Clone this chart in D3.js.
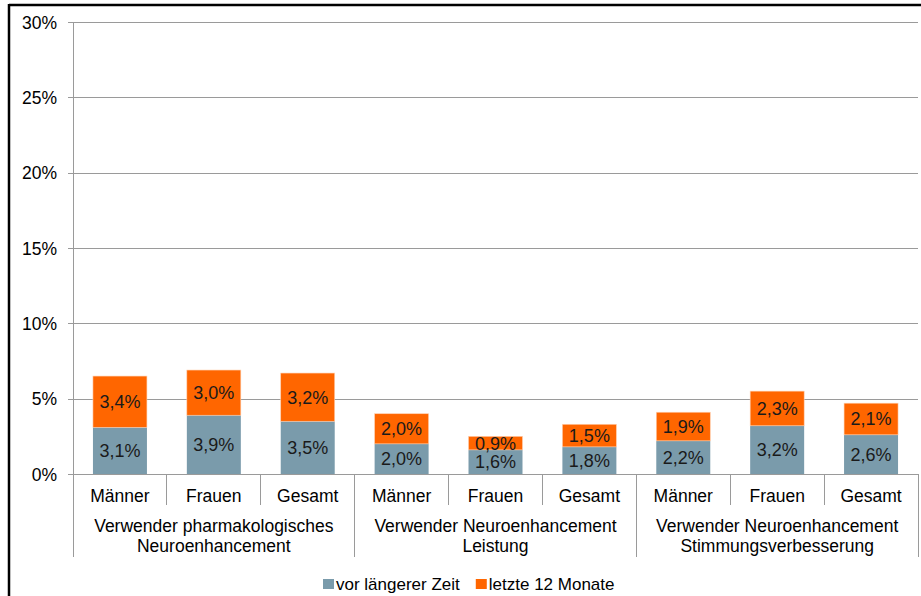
<!DOCTYPE html>
<html>
<head>
<meta charset="utf-8">
<script src="https://cdn.jsdelivr.net/npm/d3@7"></script>
<style>
	body { margin: 0; background: #fff; }
	svg { font-family: 'Liberation Sans', Arial, sans-serif; }
	.axis text { font-size: 17.5px; fill: #000; }
	.axis .domain { display: none; }
	.bar-label { font-size: 18px; fill: #1a1a1a; text-anchor: middle; }
	.legend-text { font-size: 17px; fill: #000; }
</style>
</head>
<body>
<svg id="chart-svg" width="921" height="596"></svg>
<script>
// categories and values
const categories = ['Männer', 'Frauen', 'Gesamt'];
const groups = [
	['Verwender pharmakologisches', 'Neuroenhancement'],
	['Verwender Neuroenhancement', 'Leistung'],
	['Verwender Neuroenhancement', 'Stimmungsverbesserung']
];
const seriesNames = ['vor längerer Zeit', 'letzte 12 Monate'];
const vorLaengererZeit = [3.1, 3.9, 3.5, 2.0, 1.6, 1.8, 2.2, 3.2, 2.6];
const letzte12Monate = [3.4, 3.0, 3.2, 2.0, 0.9, 1.5, 1.9, 2.3, 2.1];
const yTicks = [0, 5, 10, 15, 20, 25, 30];

const COLORS = ['#7a9bab', '#ff6600'];
const PADDING = { top: 22, left: 73, right: 3, bottom: 122 };

const svg = d3.select('#chart-svg');
const svgWidth = +svg.attr('width');
const svgHeight = +svg.attr('height');

// outer frame (only top and left visible)
svg.append('line').attr('x1', 9).attr('x2', svgWidth).attr('y1', 5).attr('y2', 5)
	.attr('stroke', '#000').attr('stroke-width', 2.5);
svg.append('line').attr('x1', 9).attr('x2', 9).attr('y1', 4).attr('y2', svgHeight)
	.attr('stroke', '#000').attr('stroke-width', 2.5);

// build row table
const rows = vorLaengererZeit.map((v, i) => ({
	key: i,
	cat: categories[i % 3],
	vor: v,
	letzte: letzte12Monate[i]
}));

const xScale = d3.scaleBand()
	.domain(rows.map((d) => d.key))
	.range([ PADDING.left, svgWidth - PADDING.right ])
	.paddingInner(0)
	.paddingOuter(0);
const barWidth = xScale.bandwidth() * 0.575;
const yScale = d3.scaleLinear().domain([ 0, 30 ]).range([ svgHeight - PADDING.bottom, PADDING.top ]);
const y0 = yScale(0);

// gridlines + y axis
const yAxis = d3.axisLeft(yScale).tickValues(yTicks).tickFormat((d) => d + '%')
	.tickSizeInner(-(svgWidth - PADDING.right - PADDING.left)).tickSizeOuter(0).tickPadding(16);
const yG = svg.append('g').attr('class', 'axis').attr('transform', 'translate(' + PADDING.left + ',0)').call(yAxis);
yG.selectAll('.tick line').attr('stroke', '#9a9a9a').attr('x1', -5).attr('shape-rendering', 'crispEdges');
yG.selectAll('.tick text').attr('dy', '0.36em');

// left axis line
svg.append('line')
	.attr('x1', PADDING.left).attr('x2', PADDING.left)
	.attr('y1', PADDING.top).attr('y2', y0 + 83)
	.attr('stroke', '#9a9a9a').attr('shape-rendering', 'crispEdges');

// stacked bars
const stack = d3.stack().keys([ 'vor', 'letzte' ]);
const stacked = stack(rows);
const layers = svg.selectAll('g.layer').data(stacked).enter().append('g').attr('class', 'layer')
	.attr('fill', (d, i) => COLORS[i]);
layers.selectAll('rect').data((d) => d).enter().append('rect')
	.attr('x', (d) => xScale(d.data.key) + (xScale.bandwidth() - barWidth) / 2)
	.attr('y', (d) => yScale(d[1]))
	.attr('width', barWidth)
	.attr('height', (d) => yScale(d[0]) - yScale(d[1]))
	.attr('stroke', (d, i, n) => d3.select(n[i].parentNode).datum().index === 1 ? '#ffd0b0' : 'none')
	.attr('stroke-width', 0.6);

layers.selectAll('text').data((d) => d).enter().append('text')
	.attr('class', 'bar-label')
	.attr('x', (d) => xScale(d.data.key) + xScale.bandwidth() / 2)
	.attr('y', (d) => (yScale(d[0]) + yScale(d[1])) / 2)
	.attr('dy', '0.36em')
	.text((d) => d3.format('.1f')(d[1] - d[0]).replace('.', ',') + '%');

// x axis line
svg.append('line')
	.attr('x1', PADDING.left - 5).attr('x2', svgWidth - PADDING.right)
	.attr('y1', y0).attr('y2', y0)
	.attr('stroke', '#9a9a9a').attr('shape-rendering', 'crispEdges');

// category ticks and labels
const bw = xScale.bandwidth();
rows.forEach((d, i) => {
	const xRight = xScale(d.key) + bw;
	const isGroupEnd = (i % 3) === 2;
	svg.append('line')
		.attr('x1', xRight).attr('x2', xRight)
		.attr('y1', y0).attr('y2', y0 + (isGroupEnd ? 83 : 31))
		.attr('stroke', '#9a9a9a').attr('shape-rendering', 'crispEdges');
	svg.append('text')
		.attr('class', 'axis-label')
		.attr('x', xScale(d.key) + bw / 2)
		.attr('y', y0 + 28)
		.attr('text-anchor', 'middle')
		.attr('font-size', 17.5)
		.text(d.cat);
});

// group labels
groups.forEach((g, gi) => {
	const cx = xScale(gi * 3) + bw * 1.5;
	const t = svg.append('text')
		.attr('x', cx)
		.attr('y', y0 + 58)
		.attr('text-anchor', 'middle')
		.attr('font-size', 17.5);
	g.forEach((line, li) => {
		t.append('tspan').attr('x', cx).attr('dy', li === 0 ? 0 : 20).text(line);
	});
});

// legend
const legendG = svg.append('g').attr('transform', 'translate(323, 579)');
let lx = 0;
seriesNames.forEach((name, i) => {
	legendG.append('rect').attr('x', lx).attr('y', 0).attr('width', 11).attr('height', 10).attr('fill', COLORS[i]);
	const txt = legendG.append('text').attr('class', 'legend-text').attr('x', lx + 13).attr('y', 11).text(name);
	lx += 13 + txt.node().getComputedTextLength() + 16;
});
</script>
</body>
</html>
